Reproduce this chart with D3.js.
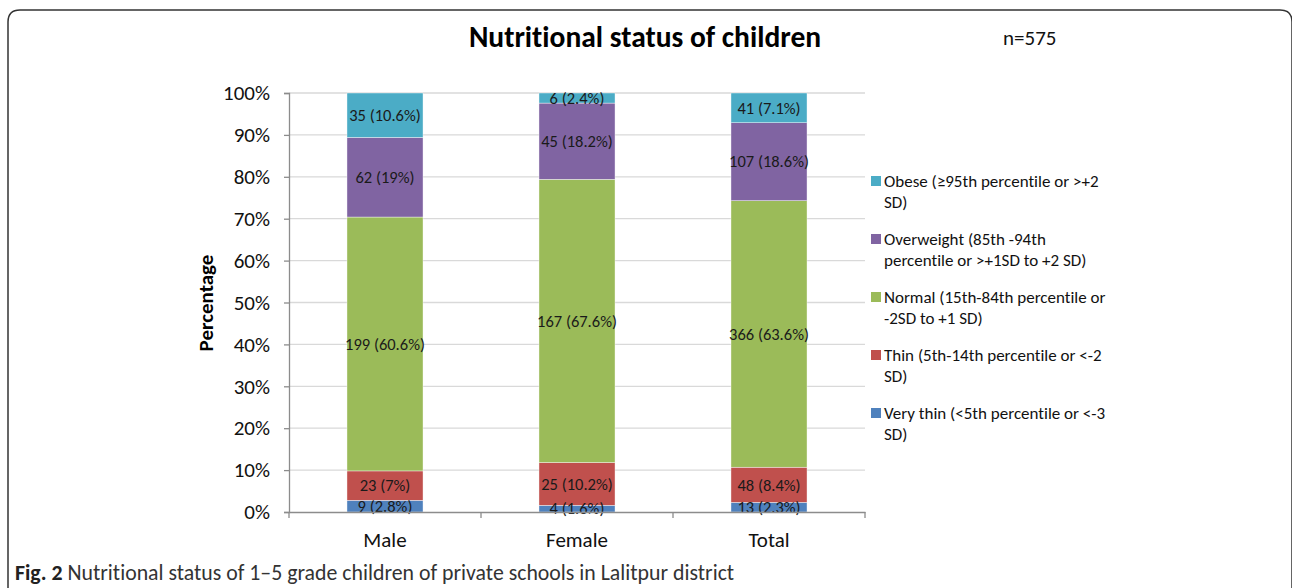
<!DOCTYPE html>
<html><head><meta charset="utf-8">
<script src="https://cdn.jsdelivr.net/npm/d3@7"></script>
<style>
body{margin:0;background:#fff;}
svg{display:block;font-family:Carlito,Lato,"Open Sans",sans-serif;font-variant-ligatures:none;font-feature-settings:"liga" 0;}
</style></head>
<body><svg id="c" width="1292" height="588"></svg>
<script>
const categories = ["Male","Female","Total"];
const legendLines = [["Very thin (<5th percentile or <-3","SD)"],["Thin (5th-14th percentile or <-2","SD)"],["Normal (15th-84th percentile or","-2SD to +1 SD)"],["Overweight (85th -94th","percentile or >+1SD to +2 SD)"],["Obese (≥95th percentile or >+2","SD)"]];
const seriesColors = ["#4F81BD","#C0504D","#9BBB59","#8064A2","#4BACC6"];
// counts and percentages per category, series order: very thin, thin, normal, overweight, obese
const veryThinN = [9,4,13],   veryThinPct = [2.8,1.6,2.3];
const thinN = [23,25,48],      thinPct = [7,10.2,8.4];
const normalN = [199,167,366], normalPct = [60.6,67.6,63.6];
const overN = [62,45,107],     overPct = [19,18.2,18.6];
const obeseN = [35,6,41],      obesePct = [10.6,2.4,7.1];
const yTicks = [0,10,20,30,40,50,60,70,80,90,100];

const counts = [veryThinN,thinN,normalN,overN,obeseN];
const pcts = [veryThinPct,thinPct,normalPct,overPct,obesePct];

const svg = d3.select("#c");
// frame
svg.append("path").attr("d","M8,588 L8,22 Q8,10 20,10 L1280,10 Q1292,10 1292,22 L1292,588")
  .attr("fill","none").attr("stroke","#333").attr("stroke-width",1.5);

const x0 = 289, x1 = 865, yTop = 93, yBot = 512;
const x = d3.scaleBand().domain(categories).range([x0,x1]).paddingInner(0.604).paddingOuter(0.302);
const y = d3.scaleLinear().domain([0,100]).range([yBot,yTop]);

// gridlines
svg.append("g").selectAll("line").data(yTicks.filter(d=>d>0)).join("line")
  .attr("x1",x0).attr("x2",x1).attr("y1",d=>y(d)).attr("y2",d=>y(d))
  .attr("stroke","#d9d9d9").attr("stroke-width",1.3);

// bars
const rows = categories.map((c,i)=>{let acc=0;return pcts.map((p,s)=>{const r={c,s,y0:acc,y1:acc+p[i],n:counts[s][i],p:p[i]};acc+=p[i];return r;});}).flat();
const g = svg.append("g");
g.selectAll("rect").data(rows).join("rect")
  .attr("x",d=>x(d.c)).attr("width",x.bandwidth())
  .attr("y",d=>y(d.y1)).attr("height",d=>y(d.y0)-y(d.y1))
  .attr("fill",d=>seriesColors[d.s]).attr("stroke","#fff").attr("stroke-width",0.4);
g.selectAll("text").data(rows).join("text")
  .attr("x",d=>x(d.c)+x.bandwidth()/2).attr("y",d=>(y(d.y0)+y(d.y1))/2)
  .attr("text-anchor","middle").attr("dy","0.35em")
  .attr("font-size",16.5).attr("fill","#1a1a1a")
  .text(d=>`${d.n} (${d.p}%)`);

// y axis
const ya = svg.append("g").attr("transform",`translate(${x0},0)`)
  .call(d3.axisLeft(y).tickValues(yTicks).tickFormat(d=>d+"%").tickSize(5).tickPadding(14));
ya.select(".domain").attr("stroke","#8c8c8c").attr("stroke-width",1.3);
ya.selectAll(".tick line").attr("stroke","#8c8c8c").attr("stroke-width",1.3);
ya.selectAll("text").attr("font-size",21).attr("fill","#111").attr("font-family","Carlito,Lato,sans-serif");

// x axis
const xa = svg.append("g").attr("transform",`translate(0,${yBot})`)
  .call(d3.axisBottom(x).tickSize(0).tickPadding(20));
xa.select(".domain").attr("stroke","#8c8c8c").attr("stroke-width",1.3);
xa.selectAll("text").attr("font-size",21).attr("fill","#111").attr("font-family","Carlito,Lato,sans-serif");
// category boundary ticks
svg.append("g").selectAll("line").data(categories.concat(["end"])).join("line")
  .attr("x1",(d,i)=>x0+i*x.step()).attr("x2",(d,i)=>x0+i*x.step())
  .attr("y1",yBot).attr("y2",yBot+6).attr("stroke","#8c8c8c").attr("stroke-width",1.3);

// title
svg.append("text").attr("x",645).attr("y",47).attr("text-anchor","middle")
  .attr("font-size",29.5).attr("font-weight","bold").attr("fill","#000").text("Nutritional status of children");
svg.append("text").attr("x",1003).attr("y",45).attr("font-size",21).attr("fill","#111").text("n=575");

// y label
svg.append("text").attr("transform","translate(213,303) rotate(-90)").attr("text-anchor","middle")
  .attr("font-size",21).attr("font-weight","bold").attr("fill","#000").text("Percentage");

// legend (top = obese)
const legOrder = [4,3,2,1,0];
const leg = svg.append("g");
legOrder.forEach((s,k)=>{
  const yy = 187 + k*58;
  leg.append("rect").attr("x",871).attr("y",yy-11).attr("width",10).attr("height",10).attr("fill",seriesColors[s]);
  legendLines[s].forEach((t,j)=>{
    leg.append("text").attr("x",884).attr("y",yy+j*21).attr("font-size",17).attr("fill","#111").text(t);
  });
});

// caption
const cap = svg.append("text").attr("x",15).attr("y",580).attr("font-size",21.8).attr("fill","#333");
cap.append("tspan").attr("font-weight","bold").attr("fill","#222").text("Fig. 2");
cap.append("tspan").text(" Nutritional status of 1–5 grade children of private schools in Lalitpur district");
</script></body></html>
